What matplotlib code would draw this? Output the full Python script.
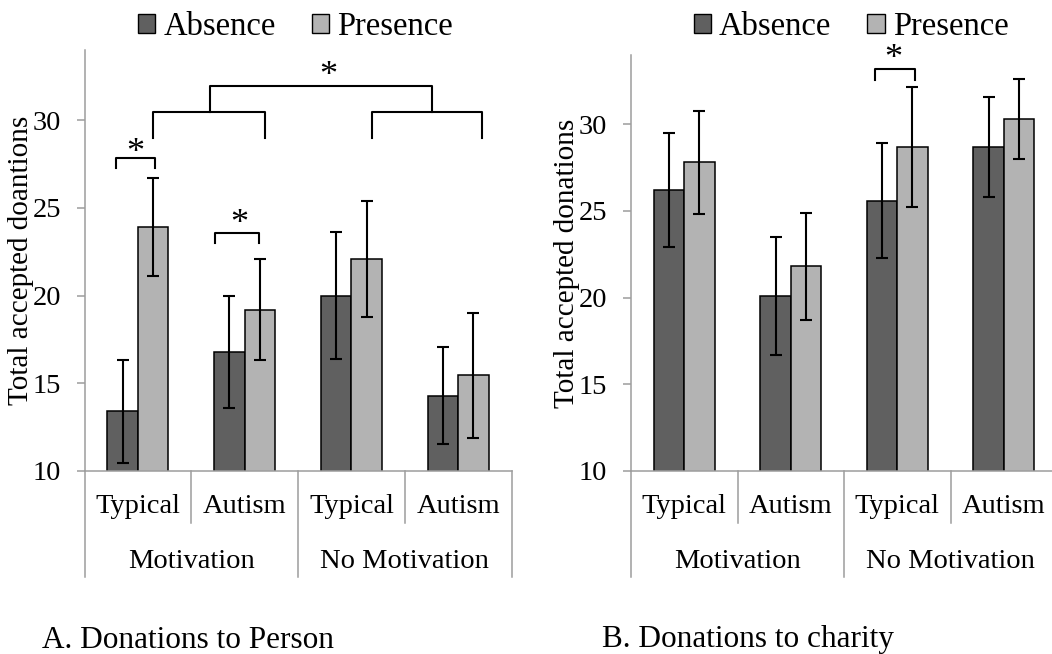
import matplotlib
matplotlib.use("Agg")
import matplotlib.pyplot as plt
from matplotlib.patches import Patch
from matplotlib.transforms import blended_transform_factory
import numpy as np

plt.rcParams['font.family'] = ['Liberation Serif', 'DejaVu Serif']

# ---------------- data ----------------
groups = ["Motivation", "No Motivation"]
subgroups = ["Typical", "Autism", "Typical", "Autism"]
series = ["Absence", "Presence"]

# Panel A: donations to person
a_absence = [13.4, 16.8, 20.0, 14.3]
a_absence_err = [2.95, 3.2, 3.6, 2.75]
a_presence = [23.9, 19.2, 22.1, 15.45]
a_presence_err = [2.8, 2.9, 3.3, 3.55]

# Panel B: donations to charity
b_absence = [26.2, 20.1, 25.6, 28.7]
b_absence_err = [3.3, 3.4, 3.3, 2.9]
b_presence = [27.8, 21.8, 28.7, 30.3]
b_presence_err = [2.95, 3.1, 3.45, 2.3]

yticks = [10, 15, 20, 25, 30]
ylabels = ["Total accepted doantions", "Total accepted donations"]
panel_titles = ["A. Donations to Person", "B. Donations to charity"]

dark = "#606060"
light = "#b3b3b3"
axis_gray = "#9d9d9d"

W, H = 1052, 654
fig = plt.figure(figsize=(W / 100, H / 100), dpi=100)

def fy(py):
    return 1 - py / H

axA = fig.add_axes([84.5 / W, fy(471), 427 / W, 421 / H])
axB = fig.add_axes([631 / W, fy(471), 426 / W, 416 / H])

width = 0.285
x = np.arange(4)

def draw_panel(ax, absn, absn_err, pres, pres_err, ylabel, legend_x, label_x):
    ax.bar(x - width / 2, absn, width, color=dark, edgecolor="black",
           linewidth=1.1, yerr=absn_err,
           error_kw=dict(ecolor="black", elinewidth=1.5, capsize=4, capthick=1.5),
           label=series[0], zorder=2)
    ax.bar(x + width / 2, pres, width, color=light, edgecolor="black",
           linewidth=1.1, yerr=pres_err,
           error_kw=dict(ecolor="black", elinewidth=1.5, capsize=4, capthick=1.5),
           label=series[1], zorder=2)
    ax.set_xlim(-0.5, 3.5)
    ax.set_ylim(10, 34)
    ax.set_yticks(yticks)
    ax.tick_params(axis="y", labelsize=20.5, color=axis_gray, length=6, width=1.1,
                   pad=11, direction="out")
    ax.set_xticks([])
    for s in ["top", "right"]:
        ax.spines[s].set_visible(False)
    for s in ["left", "bottom"]:
        ax.spines[s].set_color(axis_gray)
        ax.spines[s].set_linewidth(1.1)
    ax.set_ylabel(ylabel, fontsize=21)
    ax.yaxis.set_label_coords(label_x, 0.5)

    tr = blended_transform_factory(ax.transData, fig.transFigure)
    for i, lab in enumerate(subgroups):
        ax.text(i, fy(506.7), lab, transform=tr, ha="center", va="center",
                fontsize=20.5, clip_on=False)
    for g, lab in enumerate(groups):
        ax.text(2 * g + 0.5, fy(561.7), lab, transform=tr, ha="center",
                va="center", fontsize=20.5, clip_on=False)
    for b in [-0.5, 0.5, 1.5, 2.5, 3.5]:
        bottom = 577 if b in (-0.5, 1.5, 3.5) else 523
        ax.plot([b, b], [fy(471), fy(bottom)], transform=tr, color=axis_gray,
                linewidth=1.1, clip_on=False)

    handles = [Patch(facecolor=dark, edgecolor="black", linewidth=1.0),
               Patch(facecolor=light, edgecolor="black", linewidth=1.0)]
    fig.legend(handles, series, loc="center", bbox_to_anchor=(legend_x, fy(27)),
               ncol=2, frameon=False, fontsize=23.5, handlelength=0.53,
               handleheight=0.53, handletextpad=0.25, columnspacing=1.1,
               borderpad=0, borderaxespad=0)

draw_panel(axA, a_absence, a_absence_err, a_presence, a_presence_err,
           ylabels[0], 295.5 / W, -0.119)
draw_panel(axB, b_absence, b_absence_err, b_presence, b_presence_err,
           ylabels[1], 851 / W, -0.119)

def bracket(ax, x0, x1, ytop, ybot):
    ax.plot([x0, x0, x1, x1], [ybot, ytop, ytop, ybot], color="black",
            linewidth=1.5, clip_on=False, zorder=3)

def star(ax, xs, ys):
    ax.text(xs, ys, "*", ha="center", va="center", fontsize=26, clip_on=False)

# significance annotations panel A
bracket(axA, -0.208, 0.160, 27.86, 27.27)
star(axA, -0.027, 28.1)
bracket(axA, 0.722, 1.137, 23.55, 22.98)
star(axA, 0.947, 24.05)
bracket(axA, 0.139, 1.191, 30.48, 29.0)
bracket(axA, 2.190, 3.226, 30.48, 29.0)
bracket(axA, 0.676, 2.752, 31.97, 30.48)
star(axA, 1.781, 32.5)

# panel B
bracket(axB, 1.791, 2.167, 33.2, 32.56)
star(axB, 1.96, 33.75)

fig.text(41.7 / W, fy(640), panel_titles[0], fontsize=22.5, ha="left", va="center")
fig.text(601.7 / W, fy(640), panel_titles[1], fontsize=22.5, ha="left", va="center")

fig.savefig("out.png", dpi=100)
